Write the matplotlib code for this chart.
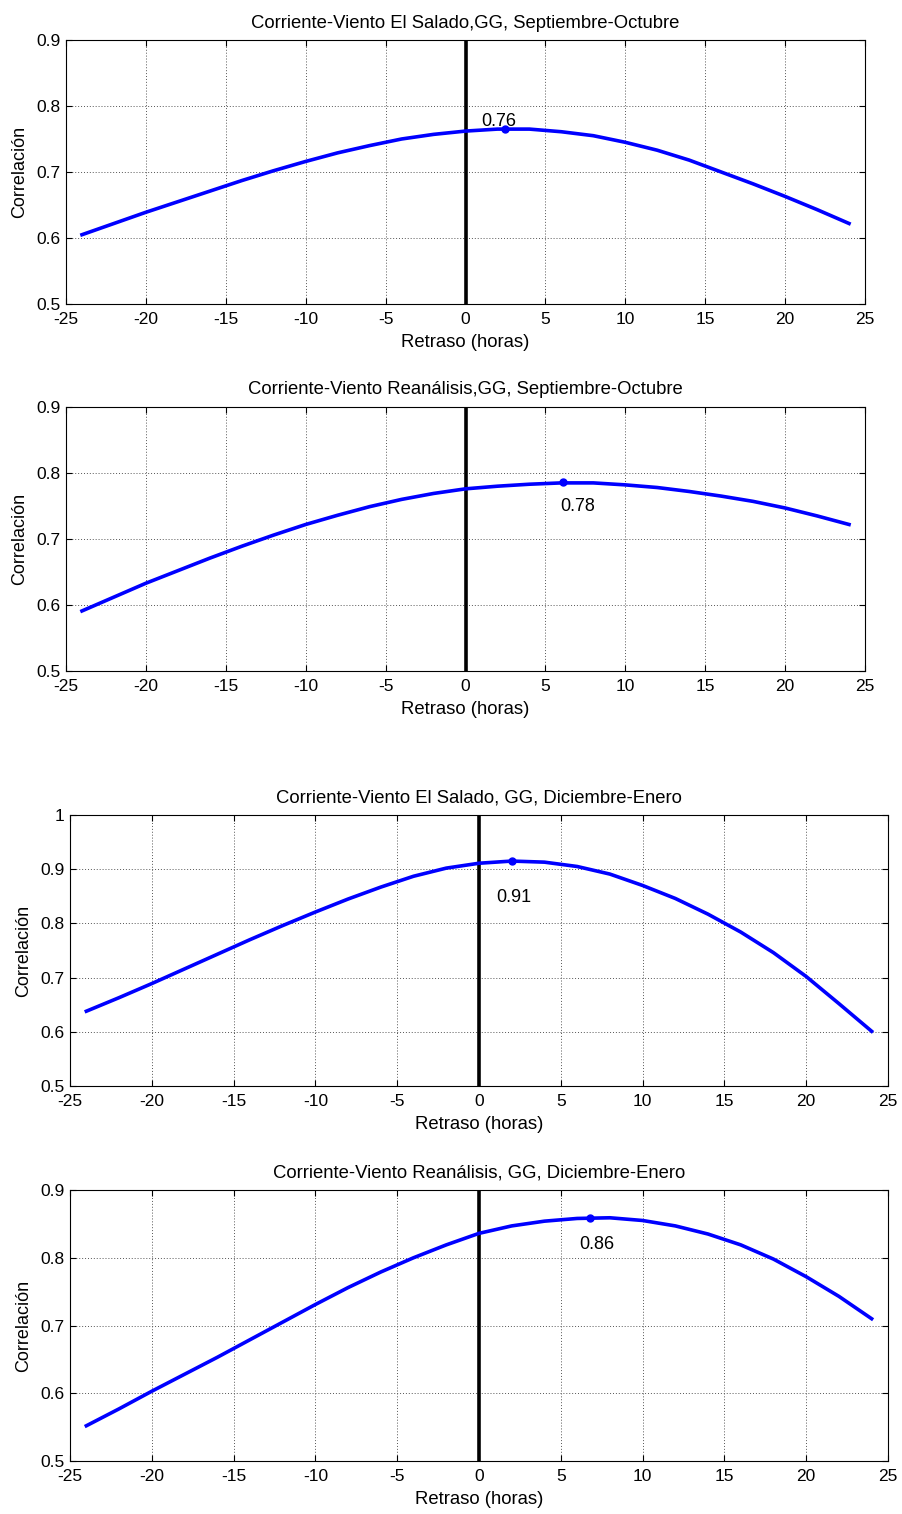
import matplotlib
matplotlib.use("Agg")
import matplotlib.pyplot as plt
import numpy as np

plt.rcParams['font.family'] = ['Liberation Sans', 'DejaVu Sans']

lags = [-24, -22, -20, -18, -16, -14, -12, -10, -8, -6, -4, -2, 0,
        2, 4, 6, 8, 10, 12, 14, 16, 18, 20, 22, 24]

corr_salado_so = [0.605, 0.622, 0.639, 0.655, 0.671, 0.687, 0.702, 0.716, 0.729, 0.740, 0.750, 0.757, 0.762,
                  0.765, 0.765, 0.761, 0.755, 0.745, 0.733, 0.718, 0.700, 0.682, 0.663, 0.643, 0.622]
corr_rean_so = [0.591, 0.612, 0.633, 0.652, 0.671, 0.689, 0.706, 0.722, 0.736, 0.749, 0.760, 0.769, 0.776,
                0.780, 0.783, 0.785, 0.785, 0.782, 0.778, 0.772, 0.765, 0.757, 0.747, 0.735, 0.722]
corr_salado_de = [0.638, 0.663, 0.689, 0.716, 0.743, 0.770, 0.796, 0.821, 0.845, 0.867, 0.887, 0.902, 0.911,
                  0.915, 0.913, 0.905, 0.891, 0.870, 0.846, 0.817, 0.784, 0.746, 0.702, 0.652, 0.601]
corr_rean_de = [0.552, 0.577, 0.603, 0.628, 0.653, 0.679, 0.705, 0.731, 0.756, 0.779, 0.800, 0.819, 0.836,
                0.847, 0.854, 0.858, 0.859, 0.855, 0.847, 0.835, 0.819, 0.798, 0.772, 0.743, 0.710]

peak_lag = [2.5, 6.1, 2.0, 6.8]
peak_val = [0.765, 0.786, 0.916, 0.859]
peak_label = ["0.76", "0.78", "0.91", "0.86"]

titles = ["Corriente-Viento El Salado,GG, Septiembre-Octubre",
          "Corriente-Viento Reanálisis,GG, Septiembre-Octubre",
          "Corriente-Viento El Salado, GG, Diciembre-Enero",
          "Corriente-Viento Reanálisis, GG, Diciembre-Enero"]
ylims = [(0.5, 0.9), (0.5, 0.9), (0.5, 1.0), (0.5, 0.9)]
yticks = [[0.5, 0.6, 0.7, 0.8, 0.9], [0.5, 0.6, 0.7, 0.8, 0.9],
          [0.5, 0.6, 0.7, 0.8, 0.9, 1.0], [0.5, 0.6, 0.7, 0.8, 0.9]]
yticklabels = [["0.5", "0.6", "0.7", "0.8", "0.9"], ["0.5", "0.6", "0.7", "0.8", "0.9"],
               ["0.5", "0.6", "0.7", "0.8", "0.9", "1"], ["0.5", "0.6", "0.7", "0.8", "0.9"]]
xticks = [-25, -20, -15, -10, -5, 0, 5, 10, 15, 20, 25]
series = [corr_salado_so, corr_rean_so, corr_salado_de, corr_rean_de]
# label offsets (in data units) relative to peak point
label_dx = [-0.4, 0.9, 0.1, 0.4]
label_dy = [0.012, -0.037, -0.069, -0.040]

W, H = 902, 1514
fig = plt.figure(figsize=(W / 100, H / 100), dpi=100)

boxes = [(66, 40, 865, 304), (66, 407, 865, 671), (70, 815, 888, 1086), (70, 1190, 888, 1461)]

for i, (l, t, r, b) in enumerate(boxes):
    ax = fig.add_axes([l / W, 1 - b / H, (r - l) / W, (b - t) / H])
    ax.set_xlim(-25, 25)
    ax.set_ylim(*ylims[i])
    ax.set_xticks(xticks)
    ax.set_xticklabels([str(v) for v in xticks])
    ax.set_yticks(yticks[i])
    ax.set_yticklabels(yticklabels[i])
    ax.grid(True, linestyle=(0, (1, 2)), color='#555555', linewidth=0.7)
    ax.tick_params(direction='in', top=True, right=True, length=4, width=0.8,
                   labelsize=12.5)
    ax.tick_params(axis='x', pad=6)
    ax.tick_params(axis='y', pad=4)
    for sp in ax.spines.values():
        sp.set_linewidth(0.8)
    ax.axvline(0, color='black', linewidth=2.6, zorder=3)
    ax.plot(lags, series[i], color='#0000ff', linewidth=2.6, zorder=4)
    ax.plot([peak_lag[i]], [peak_val[i]], 'o', color='#0000ff', markersize=5, zorder=5)
    ax.text(peak_lag[i] + label_dx[i], peak_val[i] + label_dy[i], peak_label[i],
            ha='center', va='center', fontsize=13, zorder=6)
    ax.set_title(titles[i], fontsize=13.3, pad=9)
    ax.set_xlabel("Retraso (horas)", fontsize=13.3, labelpad=5)
    ax.set_ylabel("Correlación", fontsize=13, labelpad=6)

fig.savefig("out.png", dpi=100)
